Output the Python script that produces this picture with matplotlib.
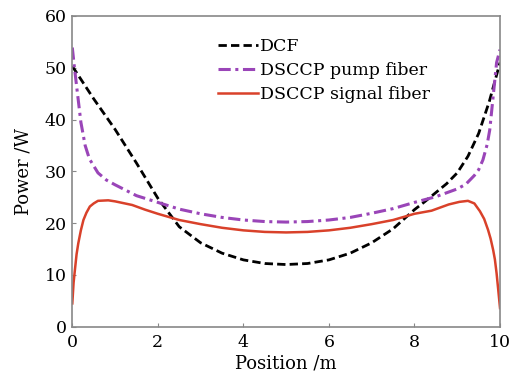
import numpy as np
import matplotlib
matplotlib.use("Agg")
import matplotlib.pyplot as plt

# values
dcf_x = [0, 0.5, 1, 1.5, 2, 2.5, 3, 3.5, 4, 4.5, 5, 5.5, 6, 6.5, 7, 7.5, 8, 8.25, 8.5, 8.75, 9, 9.25, 9.5, 9.75, 10]
dcf_p = [50.3, 44.0, 38.1, 31.6, 24.8, 19.3, 16.2, 14.2, 12.9, 12.2, 12.0, 12.2, 12.9, 14.2, 16.2, 18.9, 22.6, 24.2, 25.9, 27.6, 29.7, 32.9, 37.3, 43.5, 51.0]

pump_x = [0, 0.05, 0.1, 0.2, 0.3, 0.4, 0.6, 0.8, 1, 1.5, 2, 2.5, 3, 3.5, 4, 4.5, 5,
          5.5, 6, 6.5, 7, 7.5, 8, 8.5, 9, 9.2, 9.4, 9.5, 9.6, 9.7, 9.76, 9.84, 9.92, 10]
pump_p = [53.9, 50.0, 46.5, 39.5, 35.0, 32.4, 29.7, 28.3, 27.4, 25.3, 24.0, 22.7, 21.8, 21.1, 20.6, 20.3, 20.2,
          20.3, 20.6, 21.1, 21.9, 22.8, 24.0, 25.1, 26.6, 27.5, 29.2, 30.3, 32.2, 35.2, 38.0, 44.5, 51.0, 53.5]

signal_x = [0, 0.03, 0.06, 0.1, 0.14, 0.2, 0.26, 0.33, 0.41, 0.5, 0.6, 0.84, 1, 1.4, 1.7, 2, 2.5, 3, 3.5, 4, 4.5, 5,
            5.5, 6, 6.5, 7, 7.5, 8, 8.4, 8.8, 9.05, 9.25, 9.4, 9.53, 9.63, 9.72, 9.78, 9.84, 9.88, 9.92, 9.96, 10]
signal_p = [4.5, 8.5, 10.9, 14.0, 16.1, 18.6, 20.6, 22.0, 23.2, 23.8, 24.3, 24.4, 24.2, 23.5, 22.6, 21.8, 20.6, 19.8, 19.1, 18.6, 18.3, 18.2,
            18.3, 18.6, 19.1, 19.8, 20.6, 21.8, 22.4, 23.6, 24.1, 24.3, 23.8, 22.3, 20.8, 18.7, 17.0, 14.8, 13.0, 10.3, 7.0, 3.6]

plt.rcParams['font.family'] = ['DejaVu Serif']
plt.rcParams['font.size'] = 13

fig = plt.figure(figsize=(5.15, 3.8), dpi=100)
ax = fig.add_axes([0.1404, 0.1403, 0.8305, 0.8177])

ax.plot(dcf_x, dcf_p, color='black', linestyle=(0, (3, 1.5)), linewidth=2, label='DCF')
ax.plot(pump_x, pump_p, color='#9a45b8', linestyle=(0, (4, 1.5, 1, 1.5)), linewidth=2.2, label='DSCCP pump fiber')
ax.plot(signal_x, signal_p, color='#d9412a', linewidth=1.8, label='DSCCP signal fiber')

ax.set_xlim(0, 10)
ax.set_ylim(0, 60)
ax.set_xticks([0, 2, 4, 6, 8, 10])
ax.set_yticks([0, 10, 20, 30, 40, 50, 60])
ax.tick_params(direction='in', length=3, color='#888888', labelsize=12.5)
ax.tick_params(axis='x', pad=5)
ax.tick_params(axis='y', pad=4)
for s in ax.spines.values():
    s.set_color('#888888')
    s.set_linewidth(1.2)

ax.set_xlabel('Position /m', labelpad=3)
ax.set_ylabel('Power /W', labelpad=9)

ax.legend(loc='upper left', bbox_to_anchor=(0.325, 0.95), frameon=False, fontsize=12.5,
          handlelength=2.3, handletextpad=0.1, labelspacing=0.4, borderaxespad=0)

fig.savefig('out.png', dpi=100)
